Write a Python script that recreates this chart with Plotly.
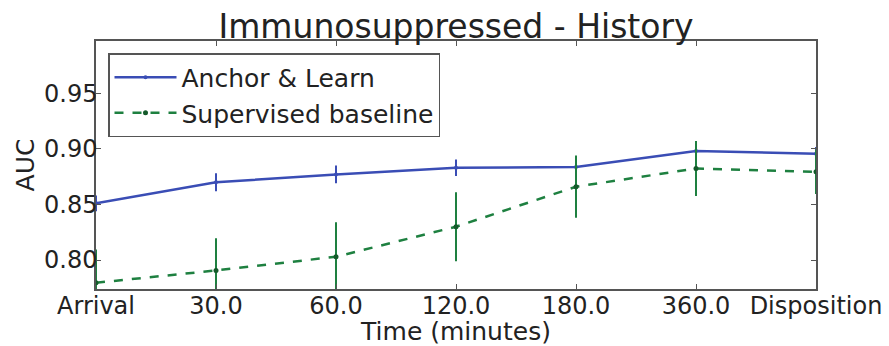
import plotly.graph_objects as go

categories = ["Arrival", "30.0", "60.0", "120.0", "180.0", "360.0", "Disposition"]
anchor_auc = [0.851, 0.870, 0.877, 0.883, 0.8836, 0.898, 0.8957]
anchor_err = [0.007, 0.008, 0.008, 0.0075, 0.007, 0.007, 0.006]
sup_auc = [0.7796, 0.7907, 0.803, 0.830, 0.866, 0.8824, 0.8794]
sup_err = [0.030, 0.029, 0.031, 0.031, 0.028, 0.0247, 0.020]

blue = "#3a4db5"
green = "#1e8040"
xs = list(range(len(categories)))

fig = go.Figure()
fig.add_trace(go.Scatter(
    x=xs, y=anchor_auc, name="Anchor & Learn", mode="lines+markers",
    line=dict(color=blue, width=2.5), marker=dict(size=4, color=blue),
    error_y=dict(type="data", array=anchor_err, color=blue, thickness=2, width=0),
))
fig.add_trace(go.Scatter(
    x=xs, y=sup_auc, name="Supervised baseline", mode="lines+markers",
    line=dict(color=green, width=2.5, dash="dash"), marker=dict(size=5, color="#145a2a"),
    error_y=dict(type="data", array=sup_err, color=green, thickness=2, width=0),
))

font = "DejaVu Sans, Liberation Sans, sans-serif"
fig.update_layout(
    width=889, height=346,
    margin=dict(l=96, r=73, t=41, b=57),
    paper_bgcolor="white", plot_bgcolor="white",
    font=dict(family=font, color="#222222", size=24),
    title=dict(text="Immunosuppressed - History", x=456 / 889, xanchor="center",
               y=1 - 26 / 346, yanchor="middle", font=dict(size=33, family=font, color="#222222")),
    showlegend=True,
    legend=dict(x=(108 - 96) / 720, y=1 - (53 - 41) / 248, xanchor="left", yanchor="top",
                bordercolor="#555555", borderwidth=1.5, bgcolor="white",
                font=dict(size=25, family=font, color="#222222"),
                itemwidth=62, tracegroupgap=0),
    xaxis=dict(
        tickmode="array", tickvals=xs, ticktext=categories,
        range=[0, len(categories) - 1],
        showgrid=False, zeroline=False, automargin=False,
        showline=True, linecolor="#555555", linewidth=1.5, mirror="ticks",
        ticks="inside", ticklen=5, tickcolor="#555555", ticklabelstandoff=-6,
        tickfont=dict(size=24), title=dict(text="Time (minutes)", font=dict(size=25), standoff=0),
    ),
    yaxis=dict(
        range=[0.774, 0.997],
        tickmode="array", tickvals=[0.80, 0.85, 0.90, 0.95],
        ticktext=["0.80", "0.85", "0.90", "0.95"],
        showgrid=False, zeroline=False, automargin=False,
        showline=True, linecolor="#555555", linewidth=1.5, mirror="ticks",
        ticks="inside", ticklen=5, tickcolor="#555555", ticklabelstandoff=-8,
        tickfont=dict(size=24), title=dict(text="AUC", font=dict(size=25), standoff=2),
    ),
)

fig.write_html("out.html")
